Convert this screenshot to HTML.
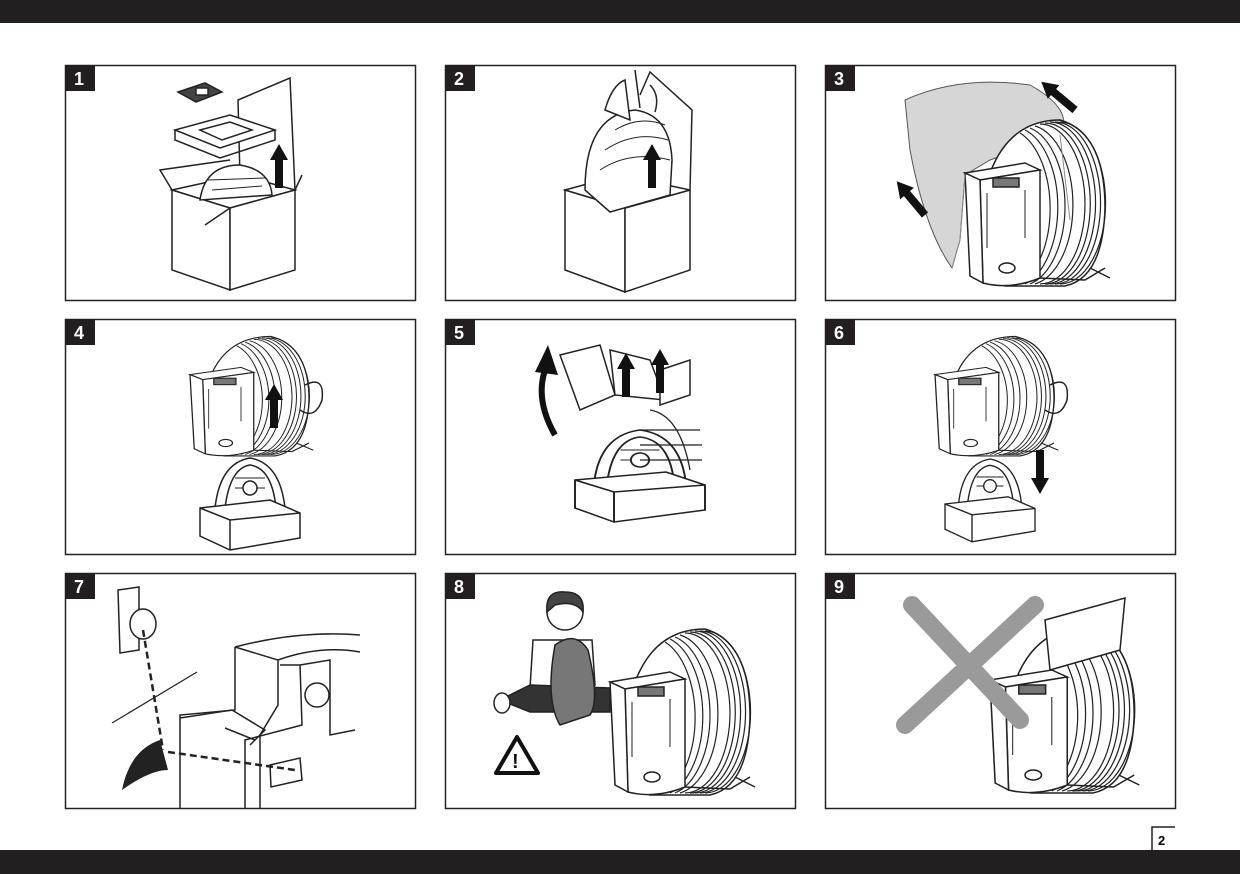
<!DOCTYPE html>
<html><head><meta charset="utf-8"><style>
html,body{margin:0;padding:0;background:#fff;}
svg{display:block}
text{font-family:"Liberation Sans",sans-serif;font-weight:bold}
</style></head><body>
<svg width="1240" height="874" viewBox="0 0 1240 874" xmlns="http://www.w3.org/2000/svg">
<defs>
<g id="dev" fill="#fff" stroke="#222" stroke-width="1.5">
 <path d="M25,55 Q45,2 95,2 Q140,15 140,90 Q138,160 100,168 L40,168 Z"/>
 <g fill="none" stroke-width="1.2">
  <path d="M95,4 A45 80 0 0 1 95,166"/>
  <path d="M90,4 A45 80 0 0 1 90,166"/>
  <path d="M85,4 A45 80 0 0 1 85,166"/>
  <path d="M80,5 A45 80 0 0 1 80,166"/>
  <path d="M75,6 A45 80 0 0 1 75,166"/>
  <path d="M70,8 A45 80 0 0 1 70,166"/>
  <path d="M65,10 A45 80 0 0 1 65,166"/>
  <path d="M60,12 A45 80 0 0 1 60,166"/>
  <path d="M55,15 A45 80 0 0 1 55,166"/>
 </g>
 <path d="M0,55 L60,45 L75,52 L15,62 Z"/>
 <path d="M15,62 L75,52 L75,160 Q45,172 18,165 Z"/>
 <path d="M0,55 L15,62 L18,165 L5,158 Z"/>
 <rect x="28" y="60" width="26" height="9" fill="#777"/>
 <path d="M22,75 L22,130 M60,72 L60,120" fill="none" stroke-width="1"/>
 <ellipse cx="42" cy="150" rx="8" ry="5"/>
 <path d="M75,160 L120,162 L140,150 M125,150 L145,160" fill="none"/>
</g>
<g id="base" fill="#fff" stroke="#222" stroke-width="1.5">
 <path d="M15,40 Q20,-5 50,-10 Q80,-5 85,40 Z"/>
 <path d="M25,40 Q30,0 50,-3 Q72,0 76,40" fill="none"/>
 <path d="M35,10 L65,10 M35,20 L65,20" fill="none" stroke-width="1"/>
 <circle cx="50" cy="20" r="7"/>
 <path d="M0,40 L70,32 L100,45 L100,70 L30,82 L0,68 Z"/>
 <path d="M0,40 L30,52 L100,45 M30,52 L30,82" fill="none"/>
</g>
<g id="arrowU"><path d="M-4,0 L-4,-28 L-9,-28 L0,-44 L9,-28 L4,-28 L4,0 Z" fill="#111"/></g>
</defs>
<rect x="0" y="0" width="1240" height="23" fill="#231f20"/>
<rect x="0" y="850" width="1240" height="24" fill="#231f20"/>
<path d="M1152,850 L1152,827 L1175,827" fill="none" stroke="#222" stroke-width="1.5"/>
<text x="1158" y="845" font-size="13">2</text>

<g fill="none" stroke="#222" stroke-width="1.5">
<rect x="65.5" y="65.5" width="350" height="235"/>
<rect x="445.5" y="65.5" width="350" height="235"/>
<rect x="825.5" y="65.5" width="350" height="235"/>
<rect x="65.5" y="319.5" width="350" height="235"/>
<rect x="445.5" y="319.5" width="350" height="235"/>
<rect x="825.5" y="319.5" width="350" height="235"/>
<rect x="65.5" y="573.5" width="350" height="235"/>
<rect x="445.5" y="573.5" width="350" height="235"/>
<rect x="825.5" y="573.5" width="350" height="235"/>
</g>
<g fill="#231f20">
<rect x="65" y="65" width="30" height="26"/><rect x="445" y="65" width="30" height="26"/><rect x="825" y="65" width="30" height="26"/>
<rect x="65" y="319" width="30" height="26"/><rect x="445" y="319" width="30" height="26"/><rect x="825" y="319" width="30" height="26"/>
<rect x="65" y="573" width="30" height="26"/><rect x="445" y="573" width="30" height="26"/><rect x="825" y="573" width="30" height="26"/>
</g>
<g fill="#fff" font-size="18">
<text x="74" y="85">1</text><text x="454" y="85">2</text><text x="834" y="85">3</text>
<text x="74" y="339">4</text><text x="454" y="339">5</text><text x="834" y="339">6</text>
<text x="74" y="593">7</text><text x="454" y="593">8</text><text x="834" y="593">9</text>
</g>

<!-- Panel 1 -->
<g fill="#fff" stroke="#222" stroke-width="1.5">
 <path d="M238,100 L290,78 L295,190 L240,178 Z"/>
 <path d="M172,190 L240,175 L295,190 L230,208 Z"/>
 <path d="M172,190 L172,270 L230,290 L230,208 Z"/>
 <path d="M230,208 L295,190 L295,270 L230,290 Z"/>
 <path d="M172,190 L160,170 L230,160 M230,208 L205,225 M295,190 L302,175" fill="none"/>
 <path d="M200,200 Q205,165 240,165 Q270,170 272,195 Z"/>
 <path d="M212,190 L262,186 M208,180 L265,178" fill="none" stroke-width="1"/>
 <path d="M175,130 L230,115 L275,130 L220,148 Z"/>
 <path d="M175,130 L175,140 L220,158 L275,140 L275,130" fill="none"/>
 <path d="M200,130 L230,122 L252,130 L222,140 Z"/>
 <path d="M178,92 L205,83 L222,92 L196,102 Z" fill="#444"/>
 <rect x="196" y="88" width="12" height="7" fill="#fff"/>
</g>
<use href="#arrowU" x="279" y="188"/>

<!-- Panel 2 -->
<g fill="#fff" stroke="#222" stroke-width="1.5">
 <path d="M640,95 L650,72 L692,110 L690,190"/>
 <path d="M565,190 L565,270 L625,292 L625,208 Z"/>
 <path d="M625,208 L690,190 L690,270 L625,292 Z"/>
 <path d="M565,190 L620,175 L690,190 L625,208 Z"/>
 <path d="M585,190 Q585,115 635,110 Q670,115 672,160 L670,195 L610,212 Z"/>
 <path d="M615,130 Q640,115 665,125 M605,150 Q635,130 668,140 M600,170 Q630,150 670,160" fill="none" stroke-width="1"/>
 <path d="M605,110 Q612,85 625,80 L630,120 Z"/>
 <path d="M635,70 L640,108 M650,85 Q660,95 655,112" fill="none"/>
</g>
<use href="#arrowU" x="652" y="188"/>

<!-- Panel 3 -->
<path d="M905,100 Q960,75 1030,85 Q1075,110 1060,135 L990,160 L965,175 L960,240 L952,268 Q925,230 910,150 Z" fill="#d6d6d6" stroke="#555" stroke-width="1"/>
<use href="#dev" transform="translate(965,118)"/>
<path d="M965,175 L960,240 L952,268 M1060,135 L1070,220" fill="none" stroke="#888" stroke-width="1"/>
<g transform="translate(1075,110) rotate(-50)"><use href="#arrowU"/></g>
<g transform="translate(925,215) rotate(-40)"><use href="#arrowU"/></g>

<!-- Panel 4 -->
<use href="#dev" transform="translate(190,335) scale(0.85,0.72)"/>
<path d="M305,385 Q325,375 322,400 Q315,420 300,410" fill="none" stroke="#222" stroke-width="1.5"/>
<use href="#arrowU" x="274" y="428"/>
<use href="#base" transform="translate(200,468)"/>

<!-- Panel 5 -->
<g fill="#fff" stroke="#222" stroke-width="1.5">
 <path d="M610,350 L650,360 L665,400 L615,395 Z"/>
 <path d="M560,355 L600,345 L615,395 L580,410 Z"/>
 <path d="M660,370 L690,360 L690,395 L660,405 Z"/>
</g>
<use href="#base" transform="translate(575,440) scale(1.3,1)"/>
<g fill="none" stroke="#222" stroke-width="1.3">
 <path d="M650,410 Q680,415 690,470 M640,430 L700,430 M640,445 L702,445 M640,460 L702,460"/>
</g>
<use href="#arrowU" x="626" y="397"/>
<use href="#arrowU" x="660" y="393"/>
<path d="M555,435 Q535,400 545,370" fill="none" stroke="#111" stroke-width="6"/>
<path d="M535,372 L548,345 L558,375 Z" fill="#111"/>

<!-- Panel 6 -->
<use href="#dev" transform="translate(935,335) scale(0.85,0.72)"/>
<path d="M1050,385 Q1070,375 1067,400 Q1060,420 1045,410" fill="none" stroke="#222" stroke-width="1.5"/>
<use href="#base" transform="translate(945,468) scale(0.9)"/>
<g transform="translate(1040,450) rotate(180)"><use href="#arrowU"/></g>

<!-- Panel 7 -->
<g fill="#fff" stroke="#222" stroke-width="1.5">
 <path d="M118,590 L139,587 L139,650 L120,653 Z"/>
 <ellipse cx="143" cy="624" rx="13" ry="15"/>
 <path d="M235,647 Q300,630 360,635 M235,647 L235,710 L180,715 L180,808 M235,647 L278,660 L278,705 L260,735 L260,808 M278,660 Q320,645 360,652 M280,665 L300,665 L302,725 L245,740 L245,808 M300,665 L330,660 L330,735 L355,730" fill="none"/>
 <circle cx="317" cy="695" r="12"/>
 <path d="M180,718 L232,710 L265,730 L250,745 M255,740 L225,728" fill="none"/>
 <path d="M270,765 L300,758 L302,780 L271,787 Z"/>
</g>
<path d="M143,630 L163,750 M168,752 L295,770" stroke="#222" stroke-width="2.5" stroke-dasharray="7,4" fill="none"/>
<line x1="112" y1="723" x2="197" y2="672" stroke="#222" stroke-width="1.2"/>
<path d="M122,790 Q130,750 160,740 L168,770 Q150,770 122,790 Z" fill="#222"/>

<!-- Panel 8 -->
<g stroke="#222" stroke-width="1.5">
 <path d="M533,640 L592,640 L595,685 L530,688 Z" fill="#fff"/>
 <circle cx="565" cy="612" r="18" fill="#fff"/>
 <path d="M547,612 Q545,590 565,592 Q585,592 583,612 Q575,600 555,605 Z" fill="#444"/>
 <path d="M500,700 L530,685 L610,688 L610,712 L530,712 Z" fill="#333"/>
 <path d="M555,645 Q575,630 588,650 Q600,700 590,715 L560,725 Q545,700 555,645 Z" fill="#777"/>
 <ellipse cx="502" cy="703" rx="8" ry="10" fill="#fff"/>
</g>
<use href="#dev" transform="translate(610,627)"/>
<path d="M496,773 L517,737 L538,773 Z" fill="#fff" stroke="#111" stroke-width="4" stroke-linejoin="round"/>
<text x="512" y="768" font-size="20" fill="#111">!</text>

<!-- Panel 9 -->
<use href="#dev" transform="translate(990,625) scale(1.03,1.0)"/>
<path d="M1045,620 L1125,598 L1120,650 L1050,670 Z" fill="#fff" stroke="#222" stroke-width="1.5"/>
<path d="M912,605 L1020,720 M1035,605 L905,725" stroke="#9a9a9a" stroke-width="18" stroke-linecap="round"/>
</svg>
</body></html>
